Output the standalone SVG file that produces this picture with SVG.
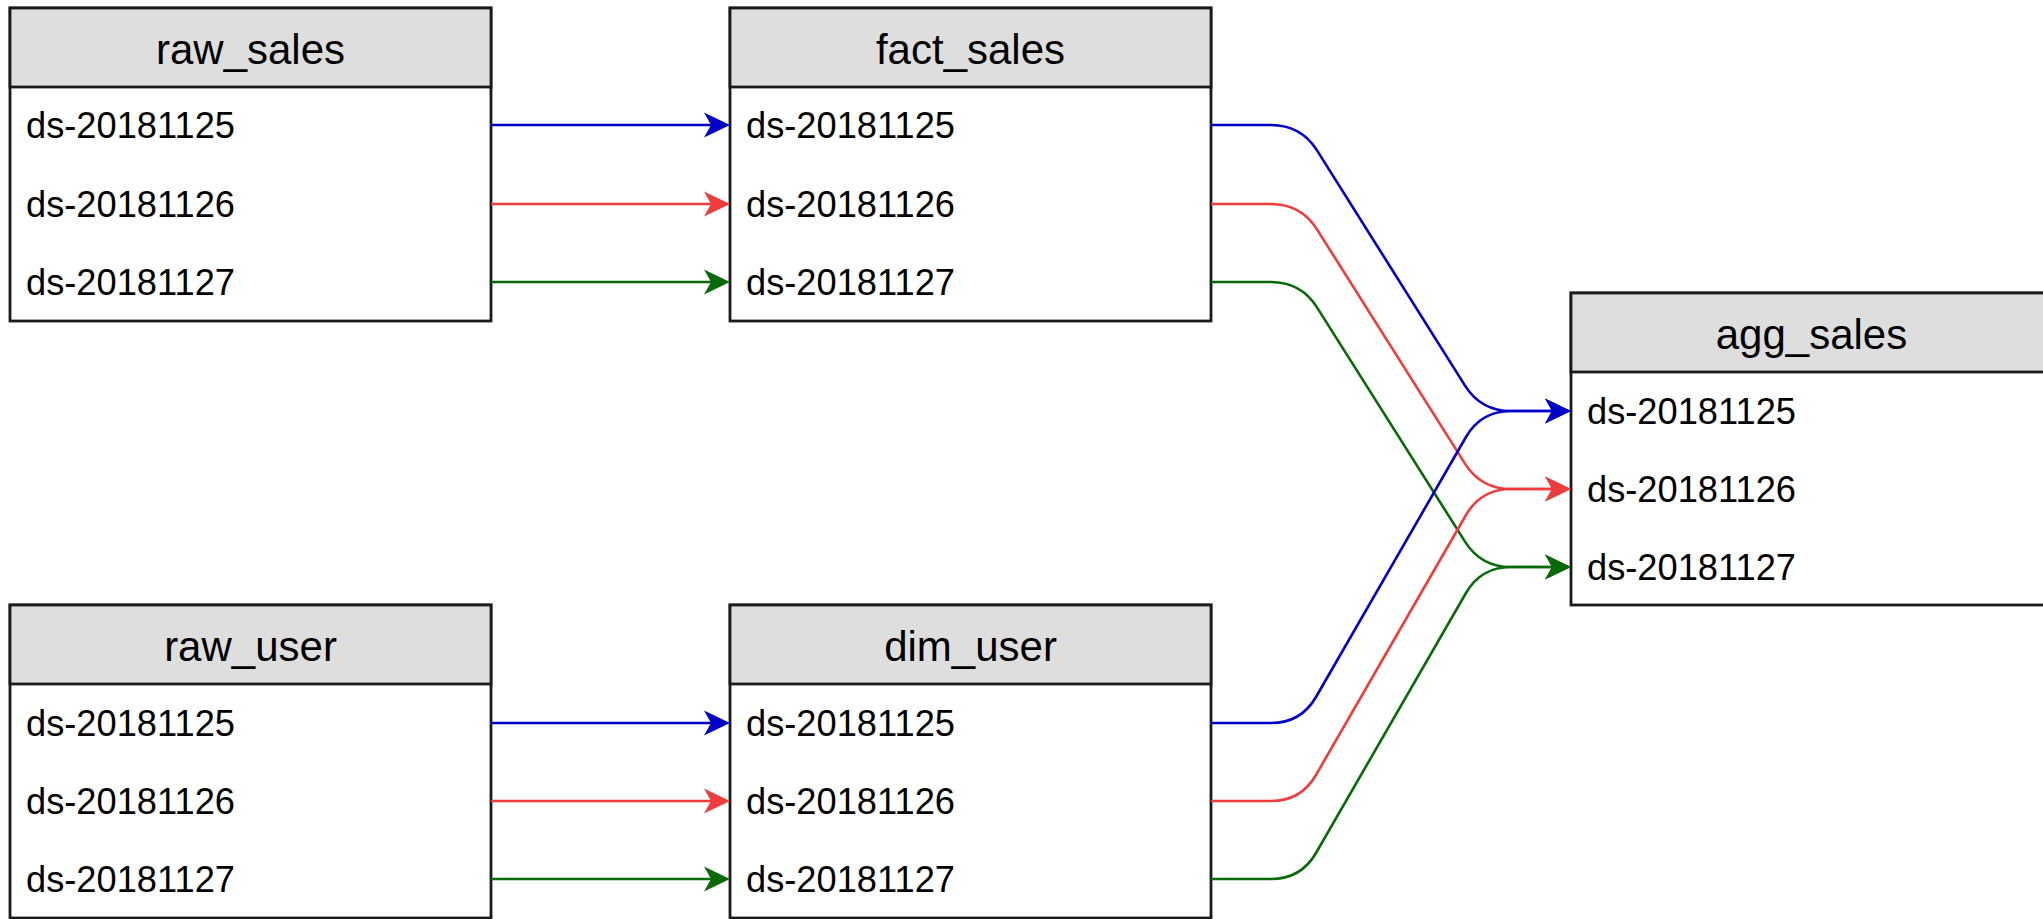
<svg xmlns="http://www.w3.org/2000/svg" width="2043" height="919" viewBox="0 0 2043 919">
<style>
.bg{fill:#ffffff}
.hdr{fill:#dedede;stroke:#1a1a1a;stroke-width:2.8}
.body{fill:#ffffff;stroke:#1a1a1a;stroke-width:2.8}
.title{font-family:"Liberation Sans",Arial,sans-serif;font-size:42px;fill:#000;text-anchor:middle}
.row{font-family:"Liberation Sans",Arial,sans-serif;font-size:36px;fill:#000}
.e{fill:none;stroke-width:2.6}
.b{stroke:#0000c8}
.r{stroke:#f03c3c}
.g{stroke:#0a6a0a}
</style>
<defs>
<marker id="mb" viewBox="0 0 26 26" markerWidth="26" markerHeight="26" refX="7" refY="13" orient="auto" markerUnits="userSpaceOnUse"><path d="M0,0.5 L26,13 L0,25.5 L7,13 Z" fill="#0000c8"/></marker>
<marker id="mr" viewBox="0 0 26 26" markerWidth="26" markerHeight="26" refX="7" refY="13" orient="auto" markerUnits="userSpaceOnUse"><path d="M0,0.5 L26,13 L0,25.5 L7,13 Z" fill="#f03c3c"/></marker>
<marker id="mg" viewBox="0 0 26 26" markerWidth="26" markerHeight="26" refX="7" refY="13" orient="auto" markerUnits="userSpaceOnUse"><path d="M0,0.5 L26,13 L0,25.5 L7,13 Z" fill="#0a6a0a"/></marker>
</defs>
<rect class="bg" x="0" y="0" width="2043" height="919"/>

<g id="raw_sales">
<rect class="body" x="10" y="8" width="481" height="313"/>
<rect class="hdr" x="10" y="8" width="481" height="79"/>
<text class="title" x="250.5" y="63.5">raw_sales</text>
<text class="row" x="26" y="138" textLength="209" lengthAdjust="spacingAndGlyphs">ds-20181125</text>
<text class="row" x="26" y="217" textLength="209" lengthAdjust="spacingAndGlyphs">ds-20181126</text>
<text class="row" x="26" y="295" textLength="209" lengthAdjust="spacingAndGlyphs">ds-20181127</text>
</g>

<g id="fact_sales">
<rect class="body" x="730" y="8" width="481" height="313"/>
<rect class="hdr" x="730" y="8" width="481" height="79"/>
<text class="title" x="970.5" y="63.5">fact_sales</text>
<text class="row" x="746" y="138" textLength="209" lengthAdjust="spacingAndGlyphs">ds-20181125</text>
<text class="row" x="746" y="217" textLength="209" lengthAdjust="spacingAndGlyphs">ds-20181126</text>
<text class="row" x="746" y="295" textLength="209" lengthAdjust="spacingAndGlyphs">ds-20181127</text>
</g>

<g id="agg_sales">
<rect class="body" x="1571" y="293" width="481" height="312"/>
<rect class="hdr" x="1571" y="293" width="481" height="79"/>
<text class="title" x="1811.5" y="348.5">agg_sales</text>
<text class="row" x="1587" y="424" textLength="209" lengthAdjust="spacingAndGlyphs">ds-20181125</text>
<text class="row" x="1587" y="502" textLength="209" lengthAdjust="spacingAndGlyphs">ds-20181126</text>
<text class="row" x="1587" y="580" textLength="209" lengthAdjust="spacingAndGlyphs">ds-20181127</text>
</g>

<g id="raw_user">
<rect class="body" x="10" y="605" width="481" height="313"/>
<rect class="hdr" x="10" y="605" width="481" height="79"/>
<text class="title" x="250.5" y="660.5">raw_user</text>
<text class="row" x="26" y="736" textLength="209" lengthAdjust="spacingAndGlyphs">ds-20181125</text>
<text class="row" x="26" y="814" textLength="209" lengthAdjust="spacingAndGlyphs">ds-20181126</text>
<text class="row" x="26" y="892" textLength="209" lengthAdjust="spacingAndGlyphs">ds-20181127</text>
</g>

<g id="dim_user">
<rect class="body" x="730" y="605" width="481" height="313"/>
<rect class="hdr" x="730" y="605" width="481" height="79"/>
<text class="title" x="970.5" y="660.5">dim_user</text>
<text class="row" x="746" y="736" textLength="209" lengthAdjust="spacingAndGlyphs">ds-20181125</text>
<text class="row" x="746" y="814" textLength="209" lengthAdjust="spacingAndGlyphs">ds-20181126</text>
<text class="row" x="746" y="892" textLength="209" lengthAdjust="spacingAndGlyphs">ds-20181127</text>
</g>

<g id="connectors">
<path class="e b" d="M491,125 L711,125" marker-end="url(#mb)"/>
<path class="e r" d="M491,204 L711,204" marker-end="url(#mr)"/>
<path class="e g" d="M491,282 L711,282" marker-end="url(#mg)"/>
<path class="e b" d="M491,723 L711,723" marker-end="url(#mb)"/>
<path class="e r" d="M491,801 L711,801" marker-end="url(#mr)"/>
<path class="e g" d="M491,879 L711,879" marker-end="url(#mg)"/>

<path class="e b" d="M1211,125 L1271,125 Q1301,125 1317,150.4 L1465,385.6 Q1481,411 1511,411 L1552,411" marker-end="url(#mb)"/>
<path class="e r" d="M1211,204 L1271,204 Q1301,204 1317,229.4 L1465,463.6 Q1481,489 1511,489 L1552,489" marker-end="url(#mr)"/>
<path class="e g" d="M1211,282 L1271,282 Q1301,282 1317,307.4 L1465,541.6 Q1481,567 1511,567 L1552,567" marker-end="url(#mg)"/>

<path class="e b" d="M1211,723 L1271,723 Q1301,723 1316,697 L1466,437 Q1481,411 1511,411 L1552,411" marker-end="url(#mb)"/>
<path class="e r" d="M1211,801 L1271,801 Q1301,801 1316,775 L1466,515 Q1481,489 1511,489 L1552,489" marker-end="url(#mr)"/>
<path class="e g" d="M1211,879 L1271,879 Q1301,879 1316,853 L1466,593 Q1481,567 1511,567 L1552,567" marker-end="url(#mg)"/>
</g>
</svg>
